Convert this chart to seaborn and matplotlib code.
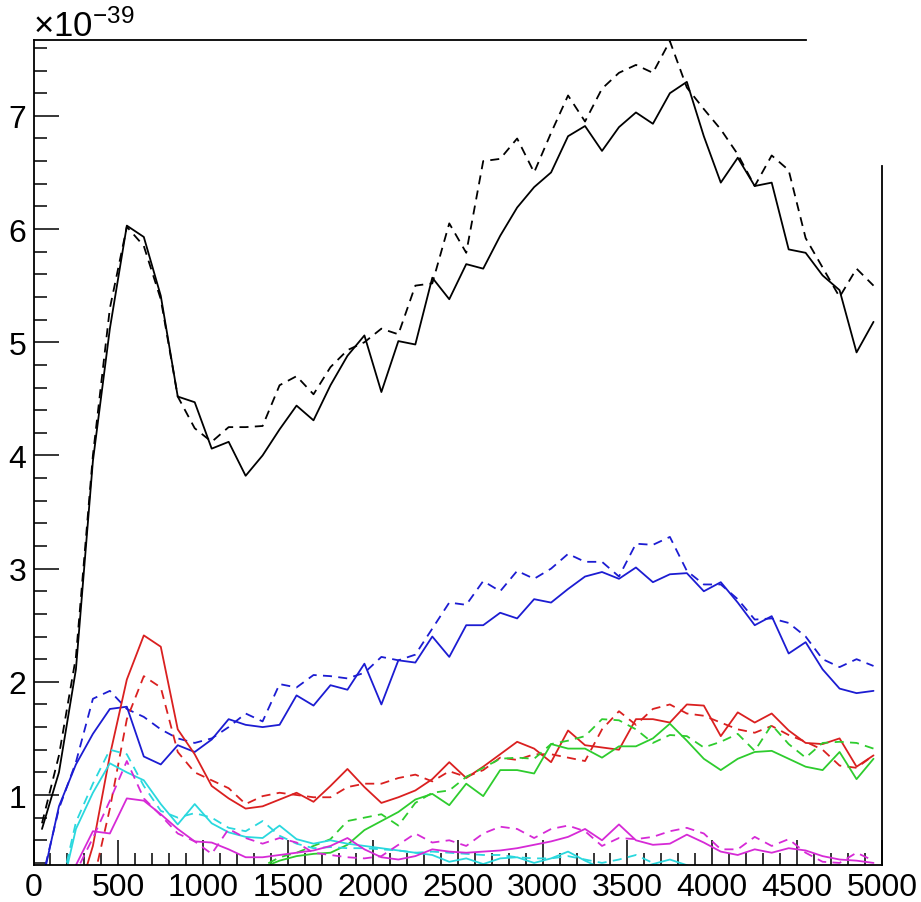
import matplotlib
matplotlib.use("Agg")
import matplotlib.pyplot as plt
from matplotlib.ticker import MultipleLocator
import seaborn as sns
import pandas as pd

# bin centres (x)
x_centers = list(range(50, 5000, 100))

black_solid = [0.70, 1.20, 2.11, 3.95, 5.12, 6.03, 5.93, 5.41, 4.52, 4.47,
               4.06, 4.12, 3.82, 4.00, 4.23, 4.44, 4.31, 4.62, 4.88, 5.06,
               4.56, 5.01, 4.98, 5.57, 5.38, 5.69, 5.65, 5.94, 6.19, 6.37,
               6.50, 6.82, 6.91, 6.69, 6.90, 7.03, 6.93, 7.20, 7.30, 6.82,
               6.41, 6.63, 6.38, 6.41, 5.82, 5.79, 5.59, 5.46, 4.91, 5.18]
black_dashed = [0.75, 1.35, 2.22, 4.00, 5.30, 6.02, 5.85, 5.38, 4.52, 4.24,
                4.12, 4.25, 4.25, 4.26, 4.62, 4.70, 4.54, 4.78, 4.93, 5.00,
                5.12, 5.07, 5.50, 5.52, 6.05, 5.79, 6.60, 6.62, 6.80, 6.50,
                6.85, 7.18, 6.95, 7.24, 7.38, 7.45, 7.38, 7.66, 7.25, 7.06,
                6.88, 6.66, 6.38, 6.65, 6.52, 5.92, 5.66, 5.40, 5.65, 5.50]
blue_solid = [0.22, 0.90, 1.27, 1.54, 1.76, 1.78, 1.34, 1.27, 1.44, 1.38,
              1.49, 1.67, 1.62, 1.60, 1.62, 1.88, 1.79, 1.97, 1.93, 2.16,
              1.80, 2.19, 2.17, 2.40, 2.22, 2.50, 2.50, 2.61, 2.56, 2.73,
              2.70, 2.82, 2.93, 2.97, 2.91, 3.01, 2.88, 2.95, 2.96, 2.80,
              2.88, 2.70, 2.50, 2.58, 2.25, 2.35, 2.11, 1.94, 1.90, 1.92]
blue_dashed = [0.25, 0.88, 1.29, 1.85, 1.92, 1.76, 1.69, 1.58, 1.50, 1.46,
               1.50, 1.60, 1.72, 1.65, 1.98, 1.95, 2.06, 2.05, 2.03, 2.08,
               2.22, 2.19, 2.24, 2.47, 2.70, 2.68, 2.89, 2.80, 2.98, 2.91,
               3.00, 3.13, 3.06, 3.06, 2.93, 3.22, 3.21, 3.28, 2.98, 2.86,
               2.86, 2.73, 2.55, 2.56, 2.52, 2.40, 2.20, 2.13, 2.20, 2.14]
red_solid = [0.00, 0.00, 0.05, 0.55, 1.35, 2.02, 2.41, 2.31, 1.58, 1.36,
             1.08, 0.97, 0.88, 0.90, 0.96, 1.02, 0.94, 1.08, 1.23, 1.07,
             0.93, 0.98, 1.04, 1.14, 1.29, 1.15, 1.25, 1.36, 1.47, 1.41,
             1.29, 1.57, 1.44, 1.42, 1.40, 1.67, 1.67, 1.64, 1.80, 1.79,
             1.52, 1.73, 1.64, 1.72, 1.57, 1.46, 1.45, 1.50, 1.25, 1.35]
red_dashed = [0.00, 0.00, 0.00, 0.22, 0.88, 1.67, 2.05, 1.95, 1.38, 1.20,
              1.13, 1.06, 0.92, 0.99, 1.02, 1.00, 0.98, 0.98, 1.07, 1.10,
              1.10, 1.15, 1.18, 1.12, 1.21, 1.16, 1.22, 1.33, 1.31, 1.36,
              1.36, 1.33, 1.30, 1.58, 1.74, 1.62, 1.76, 1.80, 1.72, 1.70,
              1.64, 1.58, 1.55, 1.61, 1.53, 1.47, 1.40, 1.26, 1.24, 1.35]
green_solid = [0.00, 0.00, 0.00, 0.00, 0.00, 0.00, 0.00, 0.00, 0.00, 0.00,
               0.00, 0.00, 0.00, 0.36, 0.42, 0.46, 0.48, 0.49, 0.56, 0.69,
               0.77, 0.85, 0.96, 1.01, 0.91, 1.10, 0.99, 1.22, 1.22, 1.19,
               1.45, 1.41, 1.41, 1.33, 1.43, 1.43, 1.50, 1.63, 1.48, 1.32,
               1.22, 1.32, 1.38, 1.39, 1.32, 1.25, 1.22, 1.38, 1.14, 1.32]
green_dashed = [0.00, 0.00, 0.00, 0.00, 0.00, 0.00, 0.00, 0.00, 0.00, 0.00,
                0.00, 0.00, 0.00, 0.37, 0.45, 0.49, 0.55, 0.61, 0.77, 0.80,
                0.83, 0.73, 0.93, 1.02, 1.04, 1.16, 1.24, 1.32, 1.33, 1.32,
                1.45, 1.48, 1.52, 1.67, 1.66, 1.58, 1.46, 1.53, 1.52, 1.42,
                1.47, 1.54, 1.39, 1.62, 1.45, 1.33, 1.46, 1.47, 1.46, 1.41]
cyan_solid = [0.00, 0.05, 0.70, 1.02, 1.28, 1.20, 1.13, 0.92, 0.74, 0.92,
              0.75, 0.67, 0.63, 0.62, 0.73, 0.61, 0.57, 0.60, 0.57, 0.55,
              0.53, 0.51, 0.49, 0.47, 0.41, 0.44, 0.39, 0.44, 0.45, 0.40,
              0.44, 0.50, 0.42, 0.35, 0.32, 0.34, 0.39, 0.43, 0.38, 0.30,
              0.25, 0.22, 0.20, 0.20, 0.20, 0.20, 0.20, 0.20, 0.20, 0.20]
cyan_dashed = [0.00, 0.10, 0.76, 1.10, 1.40, 1.36, 1.08, 0.86, 0.80, 0.84,
               0.80, 0.71, 0.68, 0.77, 0.64, 0.57, 0.53, 0.54, 0.53, 0.53,
               0.52, 0.51, 0.49, 0.50, 0.49, 0.48, 0.47, 0.47, 0.45, 0.44,
               0.44, 0.46, 0.43, 0.40, 0.43, 0.47, 0.40, 0.32, 0.28, 0.25,
               0.22, 0.20, 0.20, 0.20, 0.20, 0.20, 0.20, 0.20, 0.20, 0.20]
magenta_solid = [0.00, 0.10, 0.38, 0.68, 0.66, 0.97, 0.95, 0.83, 0.70, 0.59,
                 0.58, 0.52, 0.45, 0.45, 0.47, 0.49, 0.51, 0.55, 0.62, 0.52,
                 0.45, 0.43, 0.46, 0.52, 0.50, 0.49, 0.50, 0.51, 0.53, 0.56,
                 0.59, 0.63, 0.70, 0.60, 0.74, 0.60, 0.56, 0.57, 0.65, 0.58,
                 0.50, 0.47, 0.52, 0.49, 0.53, 0.51, 0.46, 0.43, 0.42, 0.40]
magenta_dashed = [0.00, 0.05, 0.32, 0.62, 0.95, 1.30, 0.97, 0.82, 0.66, 0.59,
                  0.48, 0.70, 0.62, 0.57, 0.62, 0.58, 0.49, 0.47, 0.45, 0.44,
                  0.46, 0.56, 0.66, 0.58, 0.60, 0.55, 0.66, 0.72, 0.70, 0.62,
                  0.70, 0.73, 0.68, 0.55, 0.62, 0.61, 0.63, 0.68, 0.71, 0.66,
                  0.52, 0.52, 0.63, 0.55, 0.61, 0.49, 0.41, 0.40, 0.49, 0.42]

x_ticks = [0, 500, 1000, 1500, 2000, 2500, 3000, 3500, 4000, 4500, 5000]
y_ticks = [1, 2, 3, 4, 5, 6, 7]
exponent_label = r"$\times10^{-39}$"

series = [
    (black_solid, "#000000", "-"),
    (black_dashed, "#000000", "--"),
    (blue_solid, "#1c1cd2", "-"),
    (blue_dashed, "#1c1cd2", "--"),
    (red_solid, "#da2020", "-"),
    (red_dashed, "#da2020", "--"),
    (green_solid, "#2ecc2e", "-"),
    (green_dashed, "#2ecc2e", "--"),
    (cyan_solid, "#2ad8de", "-"),
    (cyan_dashed, "#2ad8de", "--"),
    (magenta_solid, "#d62ad6", "-"),
    (magenta_dashed, "#d62ad6", "--"),
]

sns.set_style("ticks")
plt.rcParams["font.family"] = ["Liberation Sans", "DejaVu Sans"]
plt.rcParams["text.color"] = "black"
plt.rcParams["mathtext.fontset"] = "custom"
plt.rcParams["mathtext.rm"] = "Liberation Sans"
plt.rcParams["mathtext.it"] = "Liberation Sans:italic"
plt.rcParams["mathtext.bf"] = "Liberation Sans:bold"

W, H = 921, 903
fig = plt.figure(figsize=(W / 100, H / 100), dpi=100)
ax = fig.add_axes([33.5 / W, 37 / H, 848.5 / W, 825 / H])

for vals, col, ls in series:
    df = pd.DataFrame({"x": x_centers, "y": vals})
    line_ls = "-" if ls == "-" else (0, (5, 3.5))
    sns.lineplot(data=df, x="x", y="y", ax=ax, color=col, linewidth=1.3,
                 linestyle=line_ls, sort=False, estimator=None)

ax.set_xlim(0, 5000)
ax.set_ylim(0.3816, 7.67)
ax.set_xlabel("")
ax.set_ylabel("")
ax.set_xticks(x_ticks)
ax.set_xticklabels([str(t) for t in x_ticks])
ax.set_yticks(y_ticks)
ax.set_yticklabels([str(t) for t in y_ticks])
ax.xaxis.set_minor_locator(MultipleLocator(100))
ax.yaxis.set_minor_locator(MultipleLocator(0.2))
ax.tick_params(which="major", direction="in", length=18, width=1.1,
               labelsize=23, color="black", labelcolor="black")
ax.tick_params(which="minor", direction="in", length=9, width=1.1, color="black")
ax.tick_params(axis="x", which="major", pad=5)
ax.tick_params(axis="y", which="major", pad=5)
ax.tick_params(top=False, right=False, which="both")

for s in ax.spines.values():
    s.set_linewidth(1.3)
    s.set_color("black")
ax.spines["top"].set_bounds(0, 4555)
ax.spines["right"].set_bounds(0.3816, 6.56)

fig.text(33 / W, 1 - 37 / H, exponent_label, fontsize=25, color="black",
         ha="left", va="baseline")

fig.savefig("out.png", dpi=100, facecolor="white")
